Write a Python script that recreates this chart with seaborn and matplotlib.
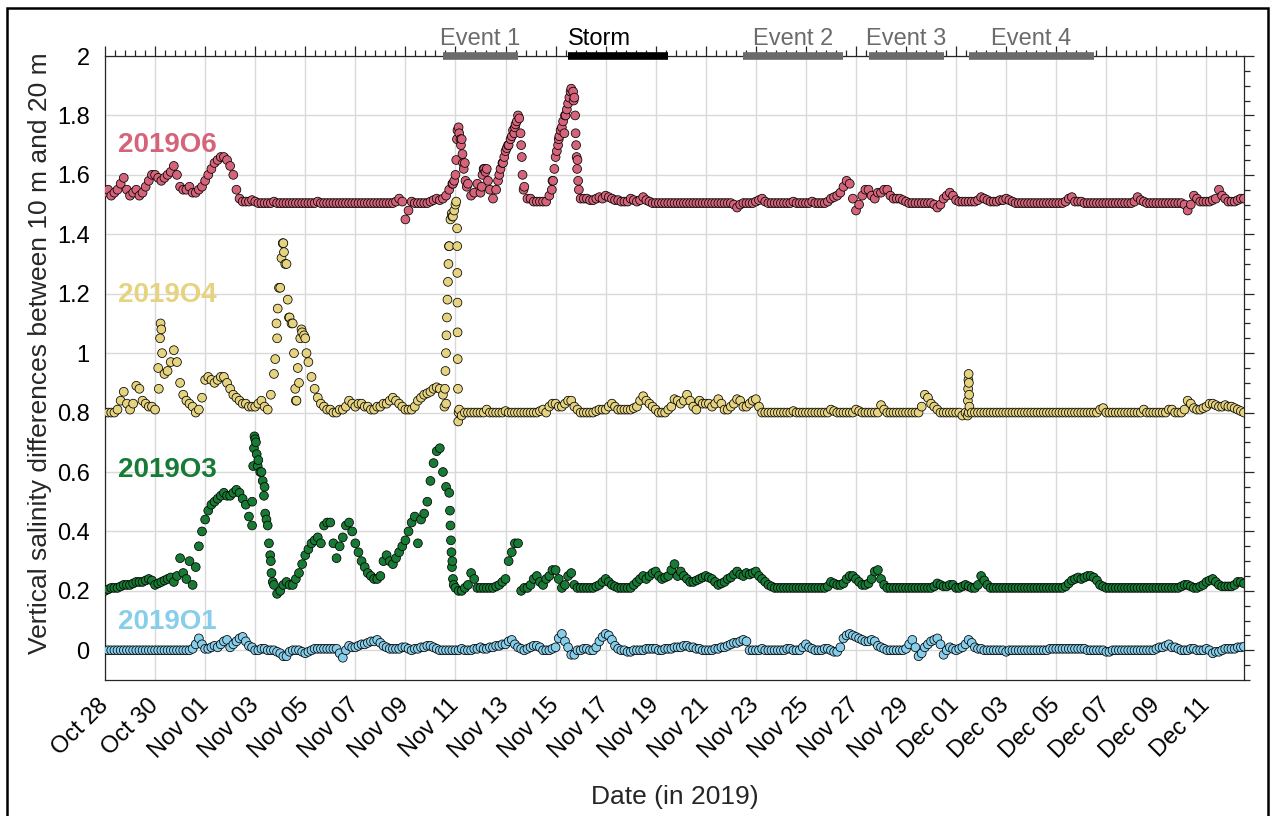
import numpy as np
import pandas as pd
import matplotlib
matplotlib.use("Agg")
import matplotlib.pyplot as plt
import matplotlib.transforms as mtransforms
from matplotlib.ticker import MultipleLocator, FuncFormatter
from matplotlib.patches import Rectangle
import seaborn as sns

# ---------------- data (days since 2019-10-28 00:00, 3-hourly samples, 8 per day) ----------------
series_names = ["2019O1", "2019O3", "2019O4", "2019O6"]
series_colors = ["#87ceeb", "#177a35", "#e6d37f", "#d5647a"]
sample_step_days = 0.125

o6_vals = [
    1.54, 1.55, 1.53, 1.54, 1.55, 1.57, 1.59, 1.55,   # Oct 28
    1.53, 1.54, 1.55, 1.53, 1.54, 1.56, 1.58, 1.60,   # Oct 29
    1.60, 1.59, 1.58, 1.59, 1.60, 1.61, 1.63, 1.60,   # Oct 30
    1.56, 1.55, 1.55, 1.56, 1.54, 1.54, 1.55, 1.56,   # Oct 31
    1.58, 1.60, 1.62, 1.64, 1.65, 1.66, 1.66, 1.65,   # Nov 01
    1.63, 1.60, 1.55, 1.52, 1.51, 1.51, 1.51, 1.515,  # Nov 02
    1.51, 1.505, 1.505, 1.505, 1.505, 1.505, 1.51, 1.505,
    1.505, 1.505, 1.505, 1.505, 1.505, 1.505, 1.505, 1.505,
    1.505, 1.505, 1.505, 1.505, 1.51, 1.505, 1.505, 1.505,
    1.505, 1.505, 1.505, 1.505, 1.505, 1.505, 1.505, 1.505,
    1.505, 1.505, 1.505, 1.505, 1.505, 1.505, 1.505, 1.505,
    1.505, 1.505, 1.505, 1.505, 1.505, 1.51, 1.52, 1.51,    # Nov 08
    1.45, 1.48, 1.51, 1.505, 1.505, 1.505, 1.505, 1.505,    # Nov 09
    1.51, 1.515, 1.52, 1.515, 1.52, 1.53, 1.55, 1.57,       # Nov 10
    1.60, 1.76, 1.72, 1.64, 1.57, 1.53, 1.54, 1.57,         # Nov 11
    1.54, 1.62, 1.62, 1.55, 1.52, 1.55, 1.60, 1.64,         # Nov 12
    1.68, 1.70, 1.73, 1.76, 1.80, 1.70, 1.56, 1.52,         # Nov 13
    1.52, 1.51, 1.51, 1.51, 1.51, 1.51, 1.53, 1.58,         # Nov 14
    1.66, 1.72, 1.76, 1.80, 1.84, 1.89, 1.86, 1.65,         # Nov 15
    1.52, 1.52, 1.52, 1.515, 1.515, 1.52, 1.525, 1.52,      # Nov 16
    1.53, 1.525, 1.52, 1.515, 1.515, 1.51, 1.51, 1.51,      # Nov 17
    1.52, 1.515, 1.51, 1.515, 1.525, 1.515, 1.51, 1.505,    # Nov 18
    1.505, 1.505, 1.505, 1.505, 1.505, 1.505, 1.505, 1.505,
    1.505, 1.505, 1.505, 1.505, 1.505, 1.505, 1.505, 1.505,
    1.505, 1.505, 1.505, 1.505, 1.505, 1.505, 1.505, 1.505,
    1.505, 1.50, 1.49, 1.50, 1.505, 1.505, 1.505, 1.505,    # Nov 22
    1.51, 1.515, 1.52, 1.51, 1.505, 1.505, 1.505, 1.505,    # Nov 23
    1.505, 1.505, 1.505, 1.505, 1.51, 1.505, 1.505, 1.505,  # Nov 24
    1.505, 1.505, 1.51, 1.505, 1.505, 1.505, 1.505, 1.51,   # Nov 25
    1.52, 1.525, 1.53, 1.54, 1.56, 1.58, 1.57, 1.52,        # Nov 26
    1.48, 1.50, 1.53, 1.55, 1.55, 1.53, 1.52, 1.54,         # Nov 27
    1.54, 1.55, 1.55, 1.53, 1.52, 1.52, 1.52, 1.515,        # Nov 28
    1.51, 1.505, 1.505, 1.505, 1.505, 1.505, 1.505, 1.505,  # Nov 29
    1.505, 1.50, 1.49, 1.50, 1.52, 1.53, 1.54, 1.53,        # Nov 30
    1.515, 1.51, 1.51, 1.51, 1.51, 1.51, 1.51, 1.515,       # Dec 01
    1.525, 1.52, 1.515, 1.51, 1.51, 1.51, 1.515, 1.515,     # Dec 02
    1.52, 1.515, 1.51, 1.505, 1.505, 1.505, 1.505, 1.505,   # Dec 03
    1.505, 1.505, 1.505, 1.505, 1.505, 1.505, 1.505, 1.505,
    1.505, 1.505, 1.505, 1.51, 1.52, 1.525, 1.51, 1.51,     # Dec 05
    1.51, 1.505, 1.505, 1.505, 1.505, 1.505, 1.505, 1.505,
    1.505, 1.505, 1.505, 1.505, 1.505, 1.505, 1.505, 1.505,
    1.505, 1.51, 1.525, 1.515, 1.51, 1.505, 1.505, 1.505,   # Dec 08
    1.505, 1.505, 1.505, 1.505, 1.505, 1.505, 1.505, 1.505,
    1.505, 1.50, 1.48, 1.50, 1.53, 1.52, 1.51, 1.51,        # Dec 10
    1.51, 1.51, 1.515, 1.52, 1.55, 1.53, 1.52, 1.51,        # Dec 11
    1.51, 1.51, 1.515, 1.52, 1.52,                          # Dec 12
]
o4_vals = [
    0.80, 0.80, 0.80, 0.80, 0.81, 0.84, 0.87, 0.83,   # Oct 28
    0.81, 0.83, 0.89, 0.88, 0.84, 0.83, 0.82, 0.82,
    0.81, 0.95, 1.08, 0.93, 0.94, 0.97, 1.01, 0.97,
    0.90, 0.86, 0.84, 0.83, 0.82, 0.80, 0.81, 0.85,
    0.91, 0.92, 0.91, 0.90, 0.91, 0.92, 0.92, 0.90,   # Nov 01
    0.88, 0.86, 0.85, 0.84, 0.83, 0.83, 0.82, 0.82,
    0.82, 0.83, 0.84, 0.82, 0.81, 0.86, 0.93, 1.05,
    1.22, 1.37, 1.30, 1.12, 1.10, 0.84, 0.90, 1.07,   # Nov 04
    1.05, 0.97, 0.92, 0.88, 0.85, 0.83, 0.82, 0.81,
    0.81, 0.80, 0.80, 0.81, 0.81, 0.82, 0.84, 0.83,
    0.82, 0.83, 0.83, 0.82, 0.82, 0.81, 0.81, 0.82,
    0.82, 0.83, 0.83, 0.84, 0.85, 0.84, 0.83, 0.82,
    0.81, 0.81, 0.81, 0.82, 0.84, 0.85, 0.86, 0.865,
    0.87, 0.88, 0.885, 0.88, 0.86, 0.83, 1.36, 1.46,  # Nov 10
    1.50, 0.80, 0.79, 0.80, 0.80, 0.80, 0.80, 0.80,   # Nov 11
    0.80, 0.80, 0.81, 0.80, 0.80, 0.80, 0.80, 0.80,
    0.805, 0.80, 0.80, 0.80, 0.80, 0.80, 0.80, 0.80,
    0.80, 0.80, 0.80, 0.805, 0.81, 0.80, 0.82, 0.83,
    0.83, 0.82, 0.82, 0.83, 0.84, 0.84, 0.82, 0.81,   # Nov 15
    0.80, 0.80, 0.80, 0.80, 0.80, 0.805, 0.81, 0.81,
    0.81, 0.82, 0.83, 0.82, 0.81, 0.81, 0.81, 0.81,
    0.81, 0.815, 0.82, 0.84, 0.855, 0.84, 0.83, 0.82,
    0.81, 0.80, 0.80, 0.80, 0.81, 0.82, 0.845, 0.84,
    0.83, 0.84, 0.86, 0.84, 0.82, 0.81, 0.84, 0.83,   # Nov 20
    0.83, 0.83, 0.82, 0.83, 0.845, 0.83, 0.81, 0.81,
    0.82, 0.83, 0.845, 0.84, 0.82, 0.82, 0.83, 0.84,
    0.845, 0.82, 0.80, 0.80, 0.80, 0.80, 0.80, 0.80,
    0.80, 0.80, 0.80, 0.80, 0.805, 0.80, 0.80, 0.80,
    0.80, 0.80, 0.80, 0.80, 0.80, 0.80, 0.80, 0.80,   # Nov 25
    0.81, 0.805, 0.80, 0.80, 0.80, 0.80, 0.80, 0.80,
    0.81, 0.805, 0.80, 0.80, 0.80, 0.80, 0.80, 0.80,
    0.825, 0.81, 0.80, 0.80, 0.80, 0.80, 0.80, 0.80,
    0.80, 0.80, 0.80, 0.80, 0.80, 0.82, 0.86, 0.85,
    0.83, 0.82, 0.81, 0.80, 0.80, 0.80, 0.80, 0.80,   # Nov 30
    0.80, 0.80, 0.79, 0.80, 0.80, 0.80, 0.80, 0.80,   # Dec 01
    0.80, 0.80, 0.80, 0.80, 0.80, 0.80, 0.80, 0.80,
    0.80, 0.80, 0.80, 0.80, 0.80, 0.80, 0.80, 0.80,
    0.80, 0.80, 0.80, 0.80, 0.80, 0.80, 0.80, 0.80,
    0.80, 0.80, 0.80, 0.80, 0.80, 0.80, 0.80, 0.80,
    0.80, 0.80, 0.80, 0.80, 0.80, 0.80, 0.81, 0.815,  # Dec 06
    0.80, 0.80, 0.80, 0.80, 0.80, 0.80, 0.80, 0.80,
    0.80, 0.80, 0.80, 0.80, 0.81, 0.80, 0.80, 0.80,
    0.80, 0.80, 0.80, 0.80, 0.81, 0.81, 0.80, 0.80,
    0.80, 0.81, 0.84, 0.83, 0.815, 0.81, 0.81, 0.815, # Dec 10
    0.82, 0.83, 0.83, 0.825, 0.82, 0.82, 0.825, 0.82,
    0.82, 0.815, 0.81, 0.805, 0.80,
]
o3_vals = [
    0.20, 0.205, 0.21, 0.21, 0.21, 0.215, 0.22, 0.22,     # Oct 28
    0.22, 0.225, 0.23, 0.23, 0.23, 0.235, 0.24, 0.235,
    0.22, 0.225, 0.23, 0.235, 0.24, 0.245, 0.23, 0.25,
    0.31, 0.26, 0.24, 0.30, 0.22, 0.28, 0.35, 0.40,
    0.44, 0.47, 0.49, 0.50, 0.51, 0.52, 0.53, 0.52,       # Nov 01
    0.52, 0.53, 0.54, 0.53, 0.51, 0.49, 0.45, 0.42,
    0.71, 0.64, 0.60, 0.55, 0.42, 0.30, 0.22, 0.19,
    0.20, 0.22, 0.23, 0.22, 0.22, 0.24, 0.26, 0.29,
    0.32, 0.34, 0.36, 0.37, 0.38, 0.36, 0.42, 0.43,
    0.43, 0.36, 0.31, 0.35, 0.38, 0.42, 0.43, 0.40,       # Nov 06
    0.36, 0.33, 0.30, 0.28, 0.26, 0.25, 0.24, 0.24,
    0.25, 0.30, 0.32, 0.30, 0.29, 0.31, 0.33, 0.35,
    0.37, 0.40, 0.43, 0.45, 0.36, 0.44, 0.46, 0.50,
    0.57, 0.63, 0.67, 0.68, 0.60, 0.55, 0.53, 0.30,       # Nov 10
    0.21, 0.20, 0.20, 0.21, 0.22, 0.26, 0.24, 0.21,
    0.21, 0.21, 0.21, 0.21, 0.21, 0.215, 0.22, 0.23,
    0.24, 0.30, 0.33, 0.36, 0.36, 0.20, 0.21, 0.21,
    0.22, 0.24, 0.25, 0.23, 0.22, 0.24, 0.25, 0.27,
    0.27, 0.24, 0.21, 0.22, 0.25, 0.26, 0.22, 0.21,       # Nov 15
    0.21, 0.21, 0.21, 0.21, 0.21, 0.215, 0.22, 0.23,
    0.24, 0.23, 0.22, 0.215, 0.21, 0.21, 0.21, 0.21,
    0.21, 0.22, 0.23, 0.24, 0.25, 0.24, 0.25, 0.26,
    0.265, 0.25, 0.24, 0.245, 0.25, 0.27, 0.29, 0.25,
    0.265, 0.25, 0.24, 0.23, 0.23, 0.235, 0.24, 0.245,    # Nov 20
    0.25, 0.245, 0.24, 0.23, 0.22, 0.225, 0.23, 0.24,
    0.245, 0.255, 0.265, 0.255, 0.25, 0.26, 0.255, 0.26,
    0.265, 0.25, 0.24, 0.23, 0.22, 0.215, 0.21, 0.21,
    0.21, 0.21, 0.21, 0.21, 0.21, 0.21, 0.21, 0.21,
    0.21, 0.21, 0.21, 0.21, 0.21, 0.21, 0.21, 0.215,      # Nov 25
    0.23, 0.225, 0.22, 0.22, 0.225, 0.24, 0.25, 0.25,
    0.24, 0.23, 0.22, 0.22, 0.225, 0.24, 0.265, 0.27,
    0.24, 0.22, 0.21, 0.21, 0.21, 0.21, 0.21, 0.21,
    0.21, 0.21, 0.21, 0.21, 0.21, 0.21, 0.21, 0.21,
    0.21, 0.215, 0.225, 0.22, 0.215, 0.215, 0.22, 0.22,   # Nov 30
    0.21, 0.21, 0.215, 0.22, 0.215, 0.21, 0.21, 0.22,     # Dec 01
    0.25, 0.235, 0.22, 0.21, 0.21, 0.21, 0.21, 0.21,
    0.21, 0.21, 0.21, 0.21, 0.21, 0.21, 0.21, 0.21,
    0.21, 0.21, 0.21, 0.21, 0.21, 0.21, 0.21, 0.21,
    0.21, 0.21, 0.21, 0.215, 0.225, 0.235, 0.24, 0.245,   # Dec 05
    0.24, 0.245, 0.25, 0.25, 0.245, 0.235, 0.22, 0.215,
    0.21, 0.21, 0.21, 0.21, 0.21, 0.21, 0.21, 0.21,
    0.21, 0.21, 0.21, 0.21, 0.21, 0.21, 0.21, 0.21,
    0.21, 0.21, 0.21, 0.21, 0.21, 0.21, 0.21, 0.21,
    0.215, 0.22, 0.22, 0.215, 0.21, 0.21, 0.215, 0.22,    # Dec 10
    0.23, 0.235, 0.24, 0.23, 0.22, 0.215, 0.215, 0.215,
    0.215, 0.22, 0.23, 0.23, 0.225,
]
o1_vals = [
    0.0, 0.0, 0.0, 0.0, 0.0, 0.0, 0.0, 0.0,               # Oct 28
    0.0, 0.0, 0.0, 0.0, 0.0, 0.0, 0.0, 0.0,
    0.0, 0.0, 0.0, 0.0, 0.0, 0.0, 0.0, 0.0,
    0.0, 0.0, 0.0, 0.0, 0.005, 0.02, 0.04, 0.02,
    0.005, 0.005, 0.01, 0.015, 0.01, 0.02, 0.03, 0.035,   # Nov 01
    0.01, 0.02, 0.03, 0.04, 0.045, 0.03, 0.015, 0.01,
    0.0, 0.0, 0.005, 0.005, 0.0, 0.0, 0.0, -0.005,
    -0.01, -0.02, -0.02, -0.005, 0.0, 0.0, 0.0, -0.005,
    -0.01, -0.005, 0.0, 0.005, 0.005, 0.005, 0.005, 0.005,
    0.005, 0.005, 0.005, -0.01, -0.025, 0.0, 0.015, 0.01, # Nov 06
    0.01, 0.015, 0.02, 0.02, 0.025, 0.03, 0.03, 0.035,
    0.025, 0.015, 0.01, 0.005, 0.005, 0.005, 0.005, 0.01,
    0.01, 0.005, 0.0, 0.005, 0.005, 0.01, 0.01, 0.015,
    0.015, 0.01, 0.005, 0.0, 0.0, 0.0, 0.0, 0.0,          # Nov 10
    0.0, 0.0, 0.005, 0.0, 0.0, 0.0, 0.005, 0.005,
    0.01, 0.005, 0.005, 0.01, 0.01, 0.015, 0.015, 0.02,
    0.02, 0.03, 0.035, 0.02, 0.01, 0.005, 0.0, 0.005,
    0.01, 0.015, 0.015, 0.01, 0.0, 0.0, 0.0, 0.005,
    0.01, 0.04, 0.055, 0.03, 0.01, -0.015, -0.015, 0.0,   # Nov 15
    0.0, 0.005, 0.005, 0.0, 0.0, 0.01, 0.03, 0.045,
    0.055, 0.05, 0.035, 0.015, 0.005, 0.0, 0.0, -0.005,
    -0.005, 0.0, 0.0, 0.0, 0.0, 0.005, 0.005, 0.005,
    0.005, 0.0, 0.0, 0.005, 0.005, 0.005, 0.01, 0.01,
    0.01, 0.015, 0.015, 0.01, 0.01, 0.005, 0.005, 0.0,    # Nov 20
    0.0, 0.0, 0.0, 0.005, 0.005, 0.01, 0.01, 0.015,
    0.02, 0.025, 0.025, 0.03, 0.035, 0.03, 0.0, 0.0,
    0.0, 0.0, 0.005, 0.0, 0.0, 0.0, 0.0, 0.0,
    0.0, 0.0, 0.005, 0.005, 0.0, 0.0, 0.0, 0.01,
    0.02, 0.01, 0.005, 0.0, 0.0, 0.0, 0.005, 0.005,       # Nov 25
    0.0, -0.005, -0.005, 0.01, 0.04, 0.05, 0.055, 0.05,
    0.045, 0.04, 0.035, 0.03, 0.03, 0.035, 0.03, 0.015,
    0.01, 0.005, 0.0, 0.0, 0.0, 0.0, 0.0, 0.0,
    0.005, 0.02, 0.035, 0.01, -0.02, -0.01, 0.01, 0.02,
    0.03, 0.035, 0.04, 0.02, -0.015, 0.0, 0.01, 0.005,    # Nov 30
    0.0, 0.005, 0.01, 0.02, 0.035, 0.025, 0.01, 0.005,    # Dec 01
    0.005, 0.0, 0.0, 0.0, 0.0, 0.0, 0.0, 0.0,
    -0.005, 0.0, 0.0, 0.0, 0.0, 0.0, 0.0, 0.0,
    0.0, 0.0, 0.0, 0.0, 0.0, 0.0, 0.005, 0.005,
    0.005, 0.005, 0.005, 0.005, 0.005, 0.005, 0.005, 0.005,  # Dec 05
    0.005, 0.005, 0.0, 0.0, 0.0, 0.0, 0.0, 0.0,
    -0.005, -0.005, 0.0, 0.0, 0.0, 0.0, 0.0, 0.0,
    0.0, 0.0, 0.0, 0.0, 0.0, 0.0, 0.0, 0.0,
    0.005, 0.01, 0.01, 0.015, 0.02, 0.01, 0.01, 0.005,
    0.0, 0.0, 0.0, 0.005, 0.005, 0.0, 0.0, 0.0,           # Dec 10
    0.005, 0.0, -0.01, -0.005, -0.005, 0.0, 0.005, 0.005,
    0.005, 0.005, 0.01, 0.01, 0.012,
]

# extra high-rate samples during very fast changes
o6_extra_days = [13.9, 13.95, 14.03, 14.06, 14.08, 14.15, 14.2, 14.22, 14.28, 14.3, 14.33, 14.4, 14.45,
                 15.05, 15.08, 15.15, 15.2, 15.3,
                 15.7, 15.8, 15.9, 15.95, 16.05, 16.1, 16.2, 16.3, 16.35, 16.4, 16.45, 16.55,
                 16.6, 16.65, 16.68, 16.72,
                 17.85, 17.9, 17.95, 18.05, 18.1, 18.15, 18.2, 18.3, 18.35, 18.4, 18.45, 18.55,
                 18.6, 18.7, 18.72, 18.78, 18.8, 18.82, 18.84, 18.86, 18.9, 18.93]
o6_extra_vals = [1.57, 1.58, 1.65, 1.72, 1.75, 1.74, 1.72, 1.70, 1.67, 1.64, 1.62, 1.58, 1.56,
                 1.56, 1.60, 1.62, 1.61, 1.58,
                 1.58, 1.62, 1.64, 1.66, 1.69, 1.70, 1.72, 1.75, 1.74, 1.77, 1.78, 1.79,
                 1.74, 1.66, 1.60, 1.55,
                 1.55, 1.58, 1.62, 1.68, 1.70, 1.73, 1.75, 1.78, 1.74, 1.80, 1.82, 1.86,
                 1.88, 1.88, 1.85, 1.80, 1.74, 1.70, 1.66, 1.62, 1.58, 1.55]
o4_extra_days = [2.15, 2.2, 2.22, 2.28,
                 6.8, 6.85, 6.9, 6.95, 7.05, 7.1, 7.15, 7.2, 7.3, 7.35, 7.45, 7.55, 7.6, 7.65,
                 7.7, 7.8, 7.85, 7.95, 8.05,
                 13.56, 13.58, 13.6, 13.62, 13.64, 13.66, 13.68, 13.7, 13.72, 13.74,
                 13.8, 13.85, 13.9, 13.95, 14.03,
                 14.065, 14.07, 14.075, 14.08, 14.085, 14.09, 14.1, 14.11, 14.15,
                 34.46, 34.47, 34.48, 34.49, 34.5, 34.51, 34.52, 34.53]
o4_extra_vals = [0.88, 1.05, 1.10, 1.00,
                 0.98, 1.10, 1.15, 1.22, 1.32, 1.37, 1.34, 1.30, 1.18, 1.12, 1.10, 1.00, 0.88, 0.84,
                 0.95, 1.05, 1.08, 1.06, 1.00,
                 0.82, 0.88, 0.94, 1.00, 1.06, 1.12, 1.18, 1.24, 1.30, 1.36,
                 1.45, 1.47, 1.46, 1.48, 1.51,
                 1.42, 1.36, 1.27, 1.17, 1.07, 0.98, 0.88, 0.77, 0.81,
                 0.79, 0.84, 0.88, 0.91, 0.93, 0.90, 0.86, 0.82]
o3_extra_days = [5.88, 5.92, 5.95, 5.97, 6.03, 6.06, 6.1, 6.2, 6.3, 6.35, 6.4, 6.45, 6.55, 6.6,
                 6.65, 6.7,
                 13.78, 13.8, 13.82, 13.84, 13.86, 13.9, 13.93]
o3_extra_vals = [0.50, 0.62, 0.68, 0.72, 0.70, 0.66, 0.62, 0.60, 0.57, 0.52, 0.46, 0.44, 0.36, 0.32,
                 0.26, 0.23,
                 0.47, 0.42, 0.37, 0.33, 0.28, 0.24, 0.22]
o1_extra_days, o1_extra_vals = [], []

xtick_labels = ["Oct 28", "Oct 30", "Nov 01", "Nov 03", "Nov 05", "Nov 07", "Nov 09", "Nov 11",
                "Nov 13", "Nov 15", "Nov 17", "Nov 19", "Nov 21", "Nov 23", "Nov 25", "Nov 27",
                "Nov 29", "Dec 01", "Dec 03", "Dec 05", "Dec 07", "Dec 09", "Dec 11"]

event_names = ["Event 1", "Storm", "Event 2", "Event 3", "Event 4"]
event_starts = ["2019-11-10 12:00", "2019-11-15 12:00", "2019-11-22 12:00", "2019-11-27 12:00", "2019-12-01 12:00"]
event_ends = ["2019-11-13 12:00", "2019-11-19 12:00", "2019-11-26 12:00", "2019-11-30 12:00", "2019-12-06 12:00"]
event_colors = ["#6b6b6b", "#000000", "#6b6b6b", "#6b6b6b", "#6b6b6b"]

origin = pd.Timestamp("2019-10-28 00:00")
x_end_date = pd.Timestamp("2019-12-12 12:00")

# ---------------- assemble ----------------
all_vals = {"2019O1": (o1_vals, o1_extra_days, o1_extra_vals),
            "2019O3": (o3_vals, o3_extra_days, o3_extra_vals),
            "2019O4": (o4_vals, o4_extra_days, o4_extra_vals),
            "2019O6": (o6_vals, o6_extra_days, o6_extra_vals)}
frames = []
for name in series_names:
    vals, ed, ev = all_vals[name]
    assert len(vals) == 365, (name, len(vals))
    assert len(ed) == len(ev), (name, len(ed), len(ev))
    base_days = np.arange(len(vals)) * sample_step_days
    d = pd.DataFrame({"day": np.concatenate([base_days, np.asarray(ed, float)]),
                      "value": np.concatenate([np.asarray(vals, float), np.asarray(ev, float)])})
    d["series"] = name
    frames.append(d.sort_values("day", kind="stable"))
df = pd.concat(frames, ignore_index=True)

# ---------------- plot ----------------
sns.set_theme(style="white")
plt.rcParams["font.family"] = ["Liberation Sans", "DejaVu Sans"]

W, H = 1273, 816
fig = plt.figure(figsize=(W / 100, H / 100), dpi=100)
L, R, T, B = 105, 1244, 56, 680
ax = fig.add_axes([L / W, 1 - B / H, (R - L) / W, (B - T) / H])

palette = dict(zip(series_names, series_colors))
sns.scatterplot(data=df, x="day", y="value", hue="series", hue_order=series_names,
                palette=palette, s=40, edgecolor="black", linewidth=0.55,
                legend=False, ax=ax, zorder=3)

x_max = (x_end_date - origin) / pd.Timedelta(days=1)
ax.set_xlim(0, x_max)
ax.set_ylim(-0.1, 2)

ax.set_xticks(np.arange(len(xtick_labels)) * 2)
ax.set_xticklabels(xtick_labels, rotation=45, ha="right", va="center", rotation_mode="anchor")
ax.xaxis.set_minor_locator(MultipleLocator(0.4))
ax.set_yticks(np.arange(0, 2.001, 0.2))
ax.yaxis.set_major_formatter(FuncFormatter(lambda v, p: f"{v:g}"))
ax.yaxis.set_minor_locator(MultipleLocator(0.05))

ax.tick_params(which="both", direction="out", top=True, right=True, colors="#262626",
               labelcolor="black", width=0.9)
ax.tick_params(which="major", length=7, labelsize=17, pad=4)
ax.tick_params(which="minor", length=4)
ax.tick_params(axis="x", which="major", pad=9)

for sp in ax.spines.values():
    sp.set_linewidth(0.9)
    sp.set_color("#262626")

ax.grid(True, which="major", color="#d9d9d9", linewidth=1.0)
ax.set_axisbelow(True)

ax.set_xlabel("Date (in 2019)", fontsize=19, labelpad=16)
ax.set_ylabel("Vertical salinity differences between 10 m and 20 m", fontsize=19)
ax.yaxis.set_label_coords((52 - L) / (R - L), (B - 353) / (B - T))

# series labels
label_y = {"2019O6": 1.70, "2019O4": 1.195, "2019O3": 0.606, "2019O1": 0.094}
for name, col in zip(series_names, series_colors):
    ax.text(0.5, label_y[name], name, color=col, fontsize=20, fontweight="bold",
            ha="left", va="center", zorder=6)

# event bars on top axis
trans = mtransforms.blended_transform_factory(ax.transData, ax.transAxes)
for name, s, e, c in zip(event_names, event_starts, event_ends, event_colors):
    xs = (pd.Timestamp(s) - origin) / pd.Timedelta(days=1)
    xe = (pd.Timestamp(e) - origin) / pd.Timedelta(days=1)
    ax.plot([xs, xe], [1, 1], transform=trans, color=c, lw=5.5, solid_capstyle="butt",
            clip_on=False, zorder=7)
    if name == "Storm":
        ax.text(xs, 1.017, name, transform=trans, ha="left", va="baseline", color=c, fontsize=17)
    else:
        ax.text((xs + xe) / 2, 1.017, name, transform=trans, ha="center", va="baseline",
                color=c, fontsize=17)

# outer frame
fig.add_artist(Rectangle((7 / W, -0.05), (1268 - 7) / W, 1 - 8 / H + 0.05,
                         transform=fig.transFigure, fill=False, edgecolor="black", lw=1.8))

fig.savefig("out.png", dpi=100)
